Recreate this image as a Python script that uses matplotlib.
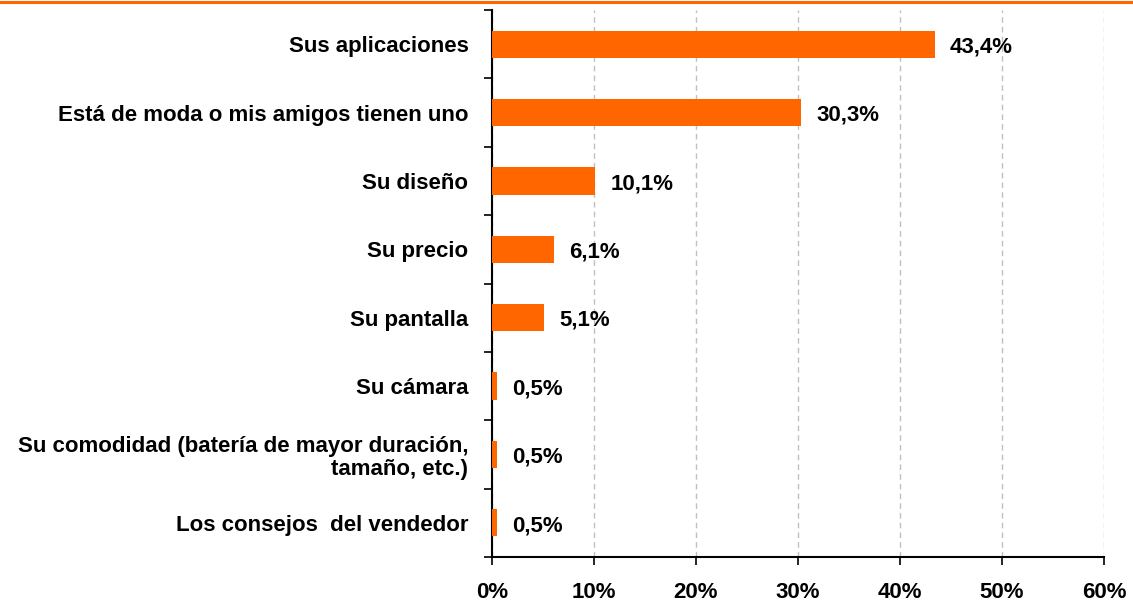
import matplotlib
matplotlib.use("Agg")
import matplotlib.pyplot as plt
from matplotlib.lines import Line2D
import numpy as np

categories = [
    "Sus aplicaciones",
    "Está de moda o mis amigos tienen uno",
    "Su diseño",
    "Su precio",
    "Su pantalla",
    "Su cámara",
    "Su comodidad (batería de mayor duración,\ntamaño, etc.)",
    "Los consejos  del vendedor",
]
values = [43.4, 30.3, 10.1, 6.1, 5.1, 0.5, 0.5, 0.5]
xticks = [0, 10, 20, 30, 40, 50, 60]

plt.rcParams['font.family'] = ['Liberation Sans', 'DejaVu Sans']
ORANGE = "#FF6600"
FS = 16

fig = plt.figure(figsize=(11.33, 6.04), dpi=100)
ax = fig.add_axes([492/1133, 1-557/604, (1104-492)/1133, (557-10)/604])

n = len(categories)
y = np.arange(n)
ax.barh(y, values, height=0.4, color=ORANGE, zorder=3)
ax.set_ylim(n - 0.5, -0.5)
ax.set_xlim(0, 60)

for yi, v in zip(y, values):
    ax.text(v + 1.5, yi + 0.04, f"{v:.1f}%".replace(".", ","), va="center", ha="left",
            fontsize=FS, fontweight="bold", zorder=4)

ax.set_xticks(xticks)
ax.set_xticklabels([f"{t}%" for t in xticks], fontsize=FS, fontweight="bold")
ax.set_yticks(np.arange(-0.5, n, 1.0))
ax.set_yticklabels([])
ax.set_yticks(y, minor=True)
ax.set_yticklabels(categories, minor=True, fontsize=FS, fontweight="bold", ha="right")
ax.tick_params(axis="y", which="minor", length=0, pad=17)
ax.tick_params(axis="y", which="major", length=6, width=1.2, direction="out")
ax.tick_params(axis="x", length=6, width=1.2, direction="out", pad=12)
for lab in ax.get_yticklabels(minor=True):
    lab.set_multialignment("right")
    lab.set_linespacing(1.1)

ax.grid(axis="x", color="#C0C0C0", linestyle=(0, (4, 3)), linewidth=1, zorder=0)
ax.spines["top"].set_visible(False)
ax.spines["right"].set_visible(False)
ax.spines["left"].set_linewidth(1.5)
ax.spines["bottom"].set_linewidth(1.5)

fig.add_artist(Line2D([0, 1], [1-2/604, 1-2/604], color=ORANGE, linewidth=2.2,
                      transform=fig.transFigure))

fig.savefig("out.png", dpi=100)
